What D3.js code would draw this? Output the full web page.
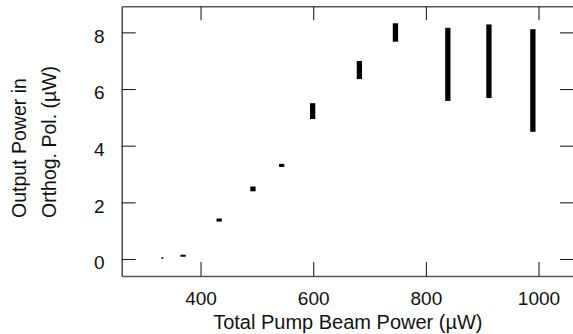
<!DOCTYPE html>
<html>
<head>
<meta charset="utf-8">
<script src="https://cdn.jsdelivr.net/npm/d3@7"></script>
<style>
  body { margin: 0; background: #fff; }
  text { font-family: "Liberation Sans", Arial, Helvetica, sans-serif; fill: #111; }
</style>
</head>
<body>
<div id="chart"></div>
<script>
// pump power (uW), half-width of x error, output power range (uW)
let pumpPower = [332, 369, 433, 493, 544, 599, 682, 746, 839, 912, 990];
let pumpErr   = [2, 4.7, 4.7, 4.7, 4.7, 4.7, 4.7, 4.7, 4.7, 4.7, 4.7];
let outLow    = [0.01, 0.08, 1.32, 2.39, 3.25, 4.94, 6.35, 7.67, 5.58, 5.68, 4.49];
let outHigh   = [0.06, 0.15, 1.43, 2.56, 3.36, 5.50, 6.99, 8.32, 8.16, 8.28, 8.11];

let xTicks = [400, 600, 800, 1000];
let yTicks = [0, 2, 4, 6, 8];

let svgWidth = 573;
let svgHeight = 334;

let margin = { top: 6.3, right: -1, bottom: 58, left: 121.7 };
let width = svgWidth - margin.left - margin.right;
let height = svgHeight - margin.top - margin.bottom;

let svg = d3.select("#chart")
    .append("svg")
    .attr("width", svgWidth)
    .attr("height", svgHeight);

let chartGroup = svg.append("g")
    .attr("transform", `translate(${margin.left}, ${margin.top})`);

let xScale = d3.scaleLinear().domain([260, 1063]).range([0, width]);
let yScale = d3.scaleLinear().domain([-0.6, 8.92]).range([height, 0]);

let data = pumpPower.map((p, i) => ({
    x: p, dx: pumpErr[i], lo: outLow[i], hi: outHigh[i]
}));

// inward ticks on all four sides
let tickLen = 14;
let bottomAxis = d3.axisBottom(xScale).tickValues(xTicks).tickFormat(d3.format("d"))
    .tickSizeInner(-tickLen).tickSizeOuter(0).tickPadding(16);
let topAxis = d3.axisTop(xScale).tickValues(xTicks).tickSizeInner(-tickLen).tickSizeOuter(0).tickFormat("");
let leftAxis = d3.axisLeft(yScale).tickValues(yTicks).tickSizeInner(-tickLen).tickSizeOuter(0).tickPadding(17);
let rightAxis = d3.axisRight(yScale).tickValues(yTicks).tickSizeInner(-tickLen).tickSizeOuter(0).tickFormat("");

function styleAxis(g) {
    g.select(".domain").attr("stroke", "#555").attr("stroke-width", 1.6);
    g.selectAll(".tick line").attr("stroke", "#222").attr("stroke-width", 1.1);
    g.selectAll(".tick text").attr("font-size", "19px").attr("fill", "#111")
        .attr("font-family", "'Liberation Sans', Arial, sans-serif");
}

chartGroup.append("g").attr("transform", `translate(0, ${height})`).call(bottomAxis).call(styleAxis);
chartGroup.append("g").call(topAxis).call(styleAxis);
chartGroup.append("g").call(leftAxis).call(styleAxis)
    .selectAll(".tick text").attr("dy", "0.52em").attr("y", 0);
chartGroup.append("g").attr("transform", `translate(${width}, 0)`).call(rightAxis).call(styleAxis);

// measurement ranges as filled rectangles
chartGroup.selectAll("rect.range")
    .data(data)
    .enter()
    .append("rect")
    .attr("class", "range")
    .attr("x", d => xScale(d.x - d.dx))
    .attr("width", d => xScale(d.x + d.dx) - xScale(d.x - d.dx))
    .attr("y", d => yScale(d.hi))
    .attr("height", d => yScale(d.lo) - yScale(d.hi))
    .attr("fill", "#000");

// axis titles
svg.append("text")
    .attr("x", margin.left + width / 2)
    .attr("y", 329)
    .attr("text-anchor", "middle")
    .attr("font-size", "20px")
    .text("Total Pump Beam Power (µW)");

let yTitle = svg.append("text")
    .attr("transform", "rotate(-90)")
    .attr("text-anchor", "start")
    .attr("font-size", "19.5px");
yTitle.append("tspan").attr("x", -218).attr("y", 25.5).text("Output Power in");
yTitle.append("tspan").attr("x", -218).attr("y", 55.5).text("Orthog. Pol. (µW)");
</script>
</body>
</html>
